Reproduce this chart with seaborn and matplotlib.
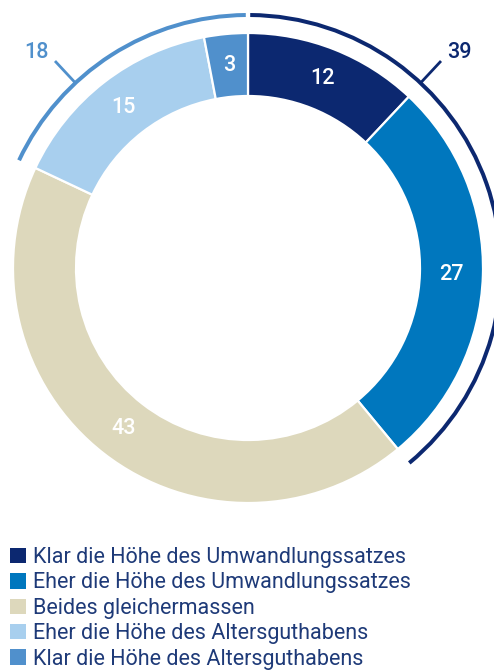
import numpy as np
import matplotlib
matplotlib.use("Agg")
import matplotlib.pyplot as plt
from matplotlib.patches import Wedge, Patch
import seaborn as sns

# Survey answers (percent)
categories = [
    "Klar die Höhe des Umwandlungssatzes",
    "Eher die Höhe des Umwandlungssatzes",
    "Beides gleichermassen",
    "Eher die Höhe des Altersguthabens",
    "Klar die Höhe des Altersguthabens",
]
values = [12, 27, 43, 15, 3]
colors = ["#0c2870", "#0077be", "#ddd8bc", "#a8cfee", "#5090cc"]

# Grouped totals shown on the outer arcs
group_members = [[0, 1], [3, 4]]
group_colors = ["#0c2870", "#5090cc"]

sns.set_theme(style="white")
plt.rcParams["font.family"] = ["Roboto", "DejaVu Sans"]

W, H = 494, 671
S = 235.0            # pixels per data unit (outer ring radius)
cx, cy = 248.0, 268.0
FS = 15.5

fig = plt.figure(figsize=(W / 100, H / 100), dpi=100)
ax = fig.add_axes([0, 0, 1, 1])

ring_w = 63 / S
wedges, _ = ax.pie(
    values,
    colors=colors,
    radius=1.0,
    startangle=90,
    counterclock=False,
    wedgeprops=dict(width=ring_w, edgecolor="white", linewidth=1.6),
)

# value labels inside the ring
r_mid = 1.0 - ring_w / 2
for w, v in zip(wedges, values):
    a = np.deg2rad((w.theta1 + w.theta2) / 2)
    ax.text(r_mid * np.cos(a), r_mid * np.sin(a), f"{v}", color="white",
            ha="center", va="center", fontsize=FS, fontweight="medium")

# outer arcs for grouped totals
total = sum(values)
cum = np.concatenate([[0], np.cumsum(values)])
arc_r = 255 / S
arc_w = 4 / S
gap = 0.5
tick_offsets = [-43.0, 43.0]
label_offsets = [-44.5, 44.5]
for members, col, off, loff in zip(group_members, group_colors,
                                   tick_offsets, label_offsets):
    start_cw = cum[members[0]] / total * 360
    end_cw = cum[members[-1] + 1] / total * 360
    theta1 = 90 - end_cw
    theta2 = 90 - start_cw
    if start_cw == 0:
        theta2 -= gap
    if end_cw >= 360:
        theta1 += gap
    ax.add_patch(Wedge((0, 0), arc_r, theta1, theta2, width=arc_w,
                       facecolor=col, edgecolor="none"))
    grp_total = sum(values[i] for i in members)
    ang = np.deg2rad(90 + off)
    r0, r1 = arc_r - arc_w / 2, 283 / S
    ax.plot([r0 * np.cos(ang), r1 * np.cos(ang)],
            [r0 * np.sin(ang), r1 * np.sin(ang)], color=col, lw=2.0,
            solid_capstyle="butt")
    la = np.deg2rad(90 + loff)
    rl = 302 / S
    ax.text(rl * np.cos(la), rl * np.sin(la), f"{grp_total}", color=col,
            ha="center", va="center", fontsize=FS, fontweight="medium")

ax.set_xlim(-cx / S, (W - cx) / S)
ax.set_ylim((cy - H) / S, cy / S)
ax.set_aspect("equal")
ax.axis("off")

handles = [Patch(facecolor=c, edgecolor="none") for c in colors]
leg = fig.legend(handles, categories, loc="upper left",
                 bbox_to_anchor=(10 / W, 1 - 547 / H), frameon=False,
                 fontsize=FS, handlelength=0.75, handleheight=0.72,
                 handletextpad=0.3, labelspacing=0.205, borderpad=0,
                 borderaxespad=0)
for t in leg.get_texts():
    t.set_color("#1e3a78")

fig.savefig("out.png", dpi=100)
